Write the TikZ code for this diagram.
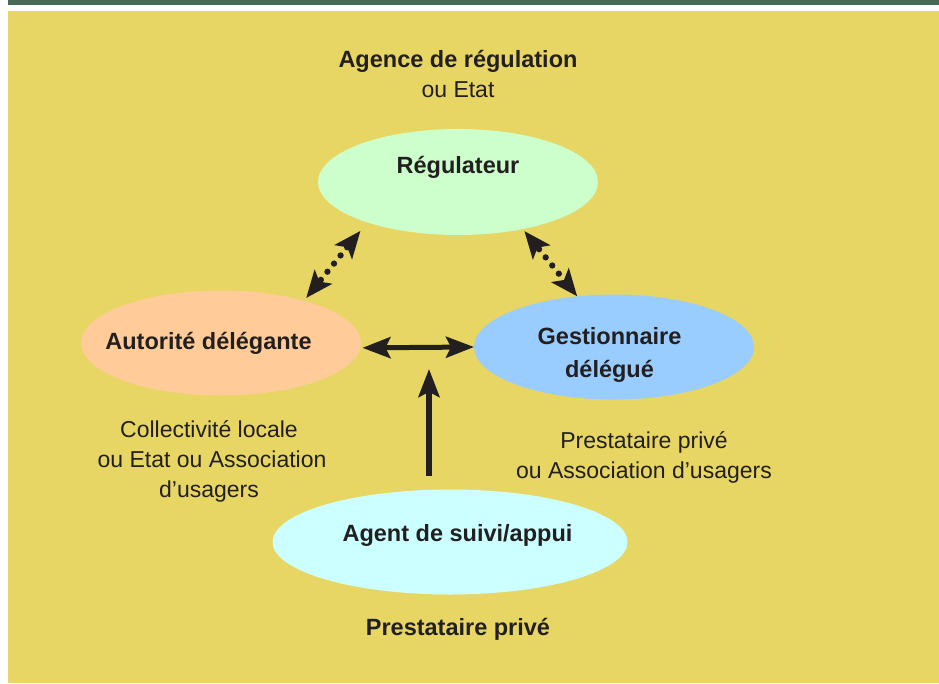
\documentclass[tikz,border=0pt]{standalone}
\usepackage{fontspec}
\setmainfont{Liberation Sans}
\usetikzlibrary{shapes.geometric,arrows.meta}
\definecolor{bgyellow}{HTML}{E7D664}
\definecolor{bandgreen}{HTML}{476955}
\definecolor{regfill}{HTML}{CCFFCC}
\definecolor{autfill}{HTML}{FFCC99}
\definecolor{gesfill}{HTML}{99CCFF}
\definecolor{agtfill}{HTML}{CCFFFF}
\definecolor{ink}{HTML}{231F20}
\begin{document}
\begin{tikzpicture}[x=1pt,y=-1pt,
  blob/.style={ellipse, inner sep=0pt, outer sep=0pt, draw=none, minimum height=105pt},
  boldtxt/.style={anchor=base, inner sep=0pt, text=ink, font=\fontsize{23.5}{28}\selectfont\bfseries},
  plaintxt/.style={anchor=base, inner sep=0pt, text=ink, font=\fontsize{23}{28}\selectfont},
  bigtip/.tip={Stealth[length=28pt,width=21pt,inset=5pt]},
  dottip/.tip={Stealth[length=27pt,width=22pt,inset=6pt]},
  solidarrow/.style={draw=ink, line width=5pt, bigtip-bigtip},
  uparrow/.style={draw=ink, line width=5.3pt, -bigtip},
  dotarrow/.style={draw=ink, line width=6.3pt, line cap=round, dash pattern=on 0pt off 10.47pt, dash phase=6.47pt, dottip-dottip}
]
\fill[white] (0,0) rectangle (939,683);
\fill[bandgreen] (8,0) rectangle (939,5);
\fill[bgyellow] (8,10.5) rectangle (939,683);
\useasboundingbox (0,0) rectangle (939,683);

\node[blob, fill=regfill, minimum width=280pt, minimum height=106pt] (reg) at (458,182) {};
\node[blob, fill=autfill, minimum width=280pt] (aut) at (221,343) {};
\node[blob, fill=gesfill, minimum width=280pt] (ges) at (614,347) {};
\node[blob, fill=agtfill, minimum width=355pt] (agt) at (450,542) {};

\node[boldtxt] (ageT) at (458,67) {Agence de régulation};
\node[plaintxt] (ageE) at (458,97) {ou Etat};
\node[boldtxt] (regT) at (458,173) {Régulateur};
\node[boldtxt] (autT) at (208.5,349) {Autorité délégante};
\node[boldtxt] (gesT1) at (609.5,344) {Gestionnaire};
\node[boldtxt] (gesT2) at (609.5,377) {délégué};
\node[boldtxt] (agtT) at (457.5,541) {Agent de suivi/appui};
\node[plaintxt] (col1) at (209,437) {Collectivité locale};
\node[plaintxt] (col2) at (212,467) {ou Etat ou Association};
\node[plaintxt] (col3) at (209,497) {d’usagers};
\node[plaintxt] (pre1) at (644,448) {Prestataire privé};
\node[plaintxt] (pre2) at (644,478) {ou Association d’usagers};
\node[boldtxt] (pre3) at (458,635) {Prestataire privé};

\draw[dotarrow, shorten <=3.5pt, shorten >=10.9pt] (aut.27) -- (reg.204);
\draw[dotarrow, shorten <=2.7pt] (reg.324) -- (ges.126);
\draw[solidarrow, shorten <=2pt] (aut.358) -- (ges.west);
\coordinate (hub) at (429,348);
\draw[uparrow, shorten <=13.5pt, shorten >=21pt] (agt.north -| hub) -- (hub);
\end{tikzpicture}
\end{document}
